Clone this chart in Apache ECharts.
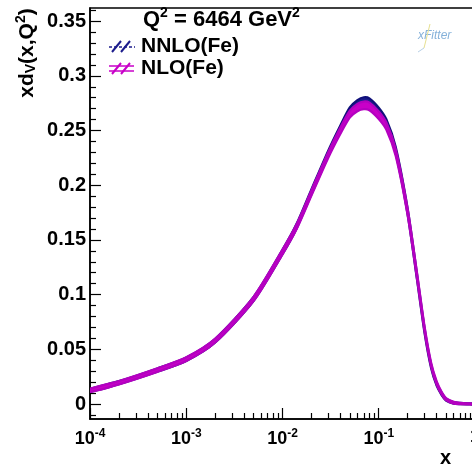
<!DOCTYPE html>
<html><head><meta charset="utf-8">
<script src="https://cdn.jsdelivr.net/npm/echarts@6/dist/echarts.min.js"></script>
<style>html,body{margin:0;padding:0;background:#fff}#c{width:472px;height:468px}</style>
</head><body><div id="c"></div>
<script>
// ---- data ----
const xValues    = [1e-4, 2e-4, 5e-4, 1e-3, 2e-3, 5e-3, 0.01, 0.014, 0.02, 0.03, 0.04, 0.05, 0.06, 0.07, 0.08, 0.1, 0.12, 0.15, 0.2, 0.25, 0.3, 0.35, 0.4, 0.45, 0.5, 0.6, 0.7, 0.85, 1.0];
const nloCentral = [0.0125, 0.0195, 0.031, 0.041, 0.058, 0.096, 0.139, 0.162, 0.193, 0.228, 0.250, 0.265, 0.271, 0.273, 0.272, 0.264, 0.254, 0.230, 0.175, 0.117, 0.068, 0.036, 0.019, 0.010, 0.0045, 0.0012, 0.0004, 0.0001, 0.0];
const nloError   = [0.0015, 0.0015, 0.0016, 0.0017, 0.0018, 0.0020, 0.0022, 0.0023, 0.0025, 0.0027, 0.0030, 0.0032, 0.0034, 0.0035, 0.0035, 0.0035, 0.0034, 0.0032, 0.0030, 0.0028, 0.0025, 0.0020, 0.0016, 0.0012, 0.0010, 0.0008, 0.0006, 0.0005, 0.0005];
const nnloCentral= [0.0125, 0.0195, 0.031, 0.041, 0.058, 0.096, 0.139, 0.1625, 0.194, 0.2295, 0.252, 0.268, 0.2745, 0.277, 0.276, 0.2675, 0.257, 0.232, 0.1755, 0.116, 0.0665, 0.0345, 0.018, 0.0093, 0.0041, 0.0010, 0.0004, 0.0001, 0.0];
const nnloError  = [0.0014, 0.0014, 0.0015, 0.0016, 0.0017, 0.0019, 0.0021, 0.0022, 0.0024, 0.0026, 0.0029, 0.0031, 0.0033, 0.0034, 0.0034, 0.0034, 0.0033, 0.0031, 0.0029, 0.0027, 0.0024, 0.0019, 0.0015, 0.0011, 0.0009, 0.0007, 0.0006, 0.0005, 0.0005];
const xMajorTicks = [1e-4, 1e-3, 1e-2, 1e-1, 1];
const xMinorTicks = [2e-4,3e-4,4e-4,5e-4,6e-4,7e-4,8e-4,9e-4, 2e-3,3e-3,4e-3,5e-3,6e-3,7e-3,8e-3,9e-3, 0.02,0.03,0.04,0.05,0.06,0.07,0.08,0.09, 0.2,0.3,0.4,0.5,0.6,0.7,0.8,0.9];
const yMajorTicks = [0, 0.05, 0.1, 0.15, 0.2, 0.25, 0.3, 0.35];
const yMinorTicks = [-0.01, 0.01, 0.02, 0.03, 0.04, 0.06, 0.07, 0.08, 0.09, 0.11, 0.12, 0.13, 0.14, 0.16, 0.17, 0.18, 0.19, 0.21, 0.22, 0.23, 0.24, 0.26, 0.27, 0.28, 0.29, 0.31, 0.32, 0.33, 0.34, 0.36];
const yLabelText = ['0', '0.05', '0.1', '0.15', '0.2', '0.25', '0.3', '0.35'];
const seriesNames = ['NNLO(Fe)', 'NLO(Fe)'];

const FONT = '"Liberation Sans", Arial, Helvetica, sans-serif';
const chart = echarts.init(document.getElementById('c'), null, {renderer: 'canvas'});

function bandSeries(name, central, err, fill, stroke) {
  return {
    name: name, type: 'custom', coordinateSystem: 'cartesian2d',
    xAxisIndex: 0, yAxisIndex: 0, clip: true,
    data: xValues.map((x, i) => [x, central[i]]),
    encode: {x: 0, y: 1},
    renderItem: function (params, api) {
      if (params.dataIndex !== 0) return null;
      const upper = xValues.map((x, i) => api.coord([x, central[i] + err[i]]));
      const lower = xValues.map((x, i) => api.coord([x, central[i] - err[i]])).reverse();
      return {
        type: 'polygon',
        shape: {points: upper.concat(lower), smooth: 0.25},
        style: {fill: fill, stroke: stroke, lineWidth: 2.2}
      };
    }
  };
}

const yMin = -0.0137, yMax = 0.362;
function tickAxisX(values, len) {
  return {
    type: 'log', logBase: 10, min: 1e-4, max: 1, position: 'bottom',
    axisLine: {show: false, onZero: false},
    axisTick: {show: true, inside: true, length: len, customValues: values, lineStyle: {color: '#000', width: 1.2}},
    axisLabel: {show: false}, splitLine: {show: false}
  };
}

const option = {
  animation: false,
  backgroundColor: '#fff',
  grid: {left: 90, top: 8, width: 385, height: 411, show: true, borderColor: '#000', borderWidth: 1.5, outerBoundsMode: 'none', containLabel: false},
  xAxis: [
    {
      type: 'log', logBase: 10, min: 1e-4, max: 1, position: 'bottom',
      axisLine: {show: true, onZero: false, lineStyle: {color: '#000', width: 1.5}},
      axisTick: {show: false},
      minorTick: {show: false},
      splitLine: {show: false},
      axisLabel: {
        customValues: xMajorTicks, margin: 9, color: '#000',
        formatter: function (v) {
          const e = Math.round(Math.log10(v));
          if (e === 0) return '{b|1}';
          return '{b|10}{s|' + e + '}';
        },
        rich: {
          b: {fontFamily: FONT, fontWeight: 'bold', fontSize: 18, color: '#000'},
          s: {fontFamily: FONT, fontWeight: 'bold', fontSize: 12, color: '#000', padding: [0, 0, 11, 0]}
        }
      }
    },
    tickAxisX(xMinorTicks, 6),
    tickAxisX(xMajorTicks, 11)
  ],
  yAxis: [
    {
      type: 'value', min: yMin, max: yMax, position: 'left',
      axisLine: {show: true, onZero: false, lineStyle: {color: '#000', width: 1.5}},
      axisTick: {show: true, inside: true, length: 11, customValues: yMajorTicks, lineStyle: {color: '#000', width: 1.2}},
      splitLine: {show: false},
      axisLabel: {
        customValues: yMajorTicks, margin: 4, color: '#000',
        fontFamily: FONT, fontWeight: 'bold', fontSize: 20,
        formatter: function (v) { const k = yMajorTicks.findIndex(t => Math.abs(t - v) < 1e-9); return k >= 0 ? yLabelText[k] : String(v); }
      }
    },
    {
      type: 'value', min: yMin, max: yMax, position: 'left',
      axisLine: {show: false, onZero: false},
      axisTick: {show: true, inside: true, length: 6, customValues: yMinorTicks, lineStyle: {color: '#000', width: 1.2}},
      axisLabel: {show: false}, splitLine: {show: false}
    }
  ],
  series: [
    bandSeries(seriesNames[0], nnloCentral, nnloError, '#1c1c8c', '#10107a'),
    bandSeries(seriesNames[1], nloCentral, nloError, '#c800c8', '#b400c0')
  ],
  graphic: [
    // y-axis title
    {type: 'text', x: 27, y: 53, rotation: Math.PI / 2,
     style: {text: '{a|xd}{sub|V}{a|(x,Q}{sup|2}{a|)}', align: 'center', verticalAlign: 'middle',
       rich: {
         a: {fontFamily: FONT, fontWeight: 'bold', fontSize: 21, fill: '#000'},
         sub: {fontFamily: FONT, fontWeight: 'bold', fontSize: 14, fill: '#000', padding: [8, 0, 0, 0]},
         sup: {fontFamily: FONT, fontWeight: 'bold', fontSize: 14, fill: '#000', padding: [0, 0, 12, 0]}
       }}},
    // x-axis title
    {type: 'text', x: 440, y: 458, style: {text: 'x', fontFamily: FONT, fontWeight: 'bold', fontSize: 20, fill: '#000', verticalAlign: 'middle'}},
    // header
    {type: 'text', x: 143, y: 20,
     style: {text: '{a|Q}{s|2}{a| = 6464 GeV}{s|2}', verticalAlign: 'middle',
       rich: {
         a: {fontFamily: FONT, fontWeight: 'bold', fontSize: 22, fill: '#000'},
         s: {fontFamily: FONT, fontWeight: 'bold', fontSize: 14, fill: '#000', padding: [0, 0, 13, 0]}
       }}},
    // legend entries
    {type: 'text', x: 141, y: 46, style: {text: seriesNames[0], fontFamily: FONT, fontWeight: 'bold', fontSize: 21, fill: '#000', verticalAlign: 'middle'}},
    {type: 'text', x: 141, y: 68, style: {text: seriesNames[1], fontFamily: FONT, fontWeight: 'bold', fontSize: 21, fill: '#000', verticalAlign: 'middle'}},
    // legend icons (hatched band symbols)
    {type: 'group', children: [
      {type: 'line', shape: {x1: 112, y1: 52, x2: 121, y2: 41}, style: {stroke: '#1c1c8c', lineWidth: 2}},
      {type: 'line', shape: {x1: 121, y1: 52, x2: 130, y2: 41}, style: {stroke: '#1c1c8c', lineWidth: 2}},
      {type: 'line', shape: {x1: 109, y1: 47, x2: 135, y2: 47}, style: {stroke: '#1c1c8c', lineWidth: 1.5, lineDash: [3, 2]}}
    ]},
    {type: 'group', children: [
      {type: 'line', shape: {x1: 112, y1: 74, x2: 121, y2: 63}, style: {stroke: '#c800c8', lineWidth: 2}},
      {type: 'line', shape: {x1: 121, y1: 74, x2: 130, y2: 63}, style: {stroke: '#c800c8', lineWidth: 2}},
      {type: 'line', shape: {x1: 109, y1: 66, x2: 134, y2: 66}, style: {stroke: '#c800c8', lineWidth: 1.5}},
      {type: 'line', shape: {x1: 109, y1: 71, x2: 134, y2: 71}, style: {stroke: '#c800c8', lineWidth: 1.5}}
    ]},
    // xFitter logo
    {type: 'text', x: 418, y: 36, style: {text: 'xFitter', fontFamily: FONT, fontStyle: 'italic', fontSize: 12, fill: '#86b2da', verticalAlign: 'middle'}},
    {type: 'line', shape: {x1: 430, y1: 24, x2: 424, y2: 48}, style: {stroke: '#e6e090', lineWidth: 1}},
    {type: 'line', shape: {x1: 424, y1: 48, x2: 418, y2: 52}, style: {stroke: '#b8d0e6', lineWidth: 1}}
  ]
};
chart.setOption(option);
</script>
</body></html>
